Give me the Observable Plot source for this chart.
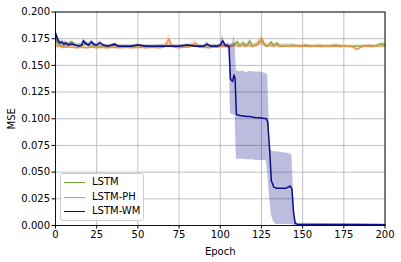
<!DOCTYPE html>
<html>
<head>
<meta charset="utf-8">
<script src="https://cdn.jsdelivr.net/npm/d3@7"></script>
<script src="https://cdn.jsdelivr.net/npm/@observablehq/plot@0.6"></script>
<style>
  html, body { margin: 0; padding: 0; background: #fff; }
  #wrap { position: relative; width: 401px; height: 262px; font-family: "DejaVu Sans", sans-serif; }
  #legend { position: absolute; left: 60px; top: 173px; width: 82px; height: 46px;
    border: 1px solid #cccccc; border-radius: 3px; background: rgba(255,255,255,0.8);
    font-size: 10px; color: #000; }
  .row { position: absolute; left: 0; height: 14px; display: flex; align-items: center; }
  .sw { position: absolute; left: 3px; width: 21px; height: 0; border-top: 1.6px solid; }
  .lb { position: absolute; left: 31px; white-space: nowrap; line-height: 14px; }
</style>
</head>
<body>
<div id="wrap"></div>
<script>
// Series names and colours
const seriesNames = ["LSTM", "LSTM-PH", "LSTM-WM"];
const seriesColors = ["#74a23a", "#ef9149", "#0d0d8c"];

// Ticks
const xTicks = [0, 25, 50, 75, 100, 125, 150, 175, 200];
const yTicks = [0, 0.025, 0.05, 0.075, 0.1, 0.125, 0.15, 0.175, 0.2];

// [epoch, mean MSE, lower band, upper band]
const lstm = [
  [0,0.176,0.170,0.181],[1,0.171,0.167,0.175],[3,0.169,0.167,0.171],[5,0.168,0.166,0.170],
  [8,0.170,0.167,0.172],[10,0.172,0.168,0.174],[12,0.169,0.167,0.171],[15,0.168,0.166,0.170],
  [18,0.170,0.168,0.172],[21,0.168,0.167,0.170],[25,0.168,0.167,0.169],[30,0.168,0.167,0.169],
  [35,0.1685,0.167,0.170],[40,0.168,0.167,0.169],[45,0.168,0.167,0.169],[50,0.1685,0.167,0.170],
  [55,0.168,0.167,0.169],[60,0.168,0.167,0.169],[65,0.1685,0.167,0.170],[70,0.168,0.167,0.169],
  [75,0.168,0.167,0.169],[80,0.1685,0.167,0.170],[85,0.168,0.167,0.169],[90,0.168,0.167,0.169],
  [95,0.1685,0.167,0.170],[100,0.168,0.167,0.169],[103,0.168,0.166,0.170],
  [106,0.168,0.166,0.170],[108,0.169,0.167,0.171],[110.5,0.172,0.168,0.174],[112,0.168,0.166,0.170],
  [114,0.171,0.168,0.173],[116,0.168,0.166,0.170],[118,0.173,0.169,0.175],[119.5,0.168,0.166,0.170],
  [122,0.169,0.167,0.171],[125,0.174,0.169,0.177],[127,0.169,0.167,0.171],[129,0.168,0.166,0.170],
  [131,0.172,0.168,0.173],[132.5,0.168,0.166,0.170],[134.5,0.171,0.168,0.172],[136,0.168,0.166,0.170],
  [140,0.168,0.167,0.170],[144,0.169,0.167,0.170],[148,0.168,0.167,0.169],[152,0.169,0.167,0.170],
  [156,0.168,0.167,0.169],[160,0.1685,0.167,0.170],[165,0.168,0.167,0.169],[170,0.169,0.167,0.170],
  [175,0.168,0.167,0.169],[180,0.168,0.167,0.169],[185,0.168,0.167,0.169],[190,0.1685,0.167,0.170],
  [194,0.168,0.167,0.169],[197,0.170,0.168,0.171],[198.5,0.170,0.168,0.172],[200,0.169,0.167,0.171]
];

const lstmPH = [
  [0,0.169,0.166,0.172],[2,0.168,0.166,0.170],[4,0.167,0.165,0.169],[7,0.167,0.166,0.169],
  [10,0.167,0.166,0.168],[13,0.1665,0.165,0.168],[16,0.167,0.165,0.168],[19,0.1665,0.165,0.168],
  [22,0.167,0.166,0.168],[25,0.1665,0.165,0.168],[28,0.167,0.165,0.168],[31,0.1665,0.165,0.168],
  [35,0.167,0.166,0.168],[39,0.1665,0.165,0.168],[43,0.167,0.166,0.168],[47,0.1665,0.165,0.168],
  [51,0.167,0.166,0.168],[55,0.1665,0.165,0.168],[59,0.167,0.166,0.168],[63,0.1665,0.165,0.168],
  [66,0.167,0.166,0.169],[68,0.172,0.167,0.176],[69,0.175,0.168,0.180],[70,0.170,0.166,0.173],
  [72,0.167,0.166,0.168],[75,0.1665,0.165,0.168],[78,0.167,0.166,0.168],[81,0.167,0.166,0.169],
  [84,0.170,0.167,0.173],[85,0.171,0.168,0.174],[87,0.167,0.166,0.169],[90,0.167,0.165,0.168],
  [93,0.1665,0.165,0.168],[96,0.167,0.166,0.168],[99,0.167,0.166,0.169],[102,0.168,0.166,0.170],
  [105,0.168,0.166,0.170],[107,0.168,0.166,0.170],[109,0.169,0.167,0.171],[111,0.168,0.166,0.170],
  [113,0.169,0.167,0.171],[115,0.168,0.166,0.170],[117,0.169,0.167,0.171],[119,0.168,0.166,0.170],
  [121,0.169,0.167,0.171],[123,0.170,0.167,0.173],[124.5,0.173,0.169,0.176],[125.5,0.175,0.170,0.178],
  [126.5,0.171,0.168,0.174],[128,0.168,0.166,0.170],[130,0.169,0.167,0.171],[132,0.168,0.166,0.170],
  [134,0.169,0.167,0.171],[137,0.168,0.166,0.170],[140,0.1685,0.167,0.170],[143,0.168,0.166,0.170],
  [146,0.168,0.167,0.170],[149,0.1675,0.166,0.169],[152,0.168,0.167,0.169],[155,0.1675,0.166,0.169],
  [158,0.168,0.167,0.169],[161,0.1675,0.166,0.169],[164,0.168,0.167,0.169],[167,0.1675,0.166,0.169],
  [170,0.168,0.167,0.169],[173,0.1675,0.166,0.169],[176,0.168,0.167,0.169],[179,0.1675,0.166,0.169],
  [181,0.167,0.165,0.168],[182.5,0.165,0.163,0.167],[184,0.166,0.164,0.168],[186,0.1675,0.166,0.169],
  [189,0.168,0.167,0.169],[192,0.1675,0.166,0.169],[195,0.168,0.167,0.169],[198,0.168,0.167,0.170],
  [200,0.168,0.167,0.170]
];

const lstmWM = [
  [0,0.180,0.176,0.184],[1,0.176,0.172,0.180],[2,0.172,0.170,0.175],[3,0.171,0.169,0.173],
  [4,0.172,0.170,0.174],[5,0.170,0.168,0.172],[6,0.171,0.169,0.173],[8,0.169,0.168,0.171],
  [10,0.170,0.168,0.172],[12,0.169,0.168,0.170],[14,0.168,0.167,0.170],[16,0.169,0.167,0.171],
  [17,0.173,0.171,0.175],[18,0.171,0.169,0.173],[20,0.169,0.168,0.171],[22,0.172,0.170,0.174],
  [23,0.170,0.168,0.172],[25,0.169,0.168,0.170],[27,0.171,0.170,0.173],[29,0.169,0.168,0.170],
  [32,0.168,0.167,0.169],[36,0.170,0.168,0.171],[38,0.168,0.167,0.169],[42,0.168,0.167,0.169],
  [46,0.168,0.167,0.169],[50,0.169,0.168,0.170],[55,0.168,0.167,0.169],[60,0.168,0.167,0.169],
  [65,0.168,0.167,0.169],[70,0.168,0.167,0.169],[75,0.168,0.167,0.169],[80,0.169,0.168,0.170],
  [85,0.168,0.167,0.169],[90,0.168,0.167,0.169],[92,0.170,0.169,0.172],[94,0.168,0.167,0.169],
  [98,0.168,0.167,0.169],[100,0.169,0.167,0.170],[101.5,0.173,0.168,0.178],[103,0.169,0.167,0.170],
  [105.3,0.168,0.166,0.170],[106.2,0.137,0.105,0.169],[107.5,0.135,0.104,0.170],[108.3,0.141,0.103,0.178],
  [109,0.138,0.104,0.170],[109.8,0.104,0.062,0.145],[112,0.103,0.062,0.144],[114,0.1025,0.062,0.1445],
  [116,0.102,0.0615,0.143],[118,0.102,0.0615,0.1445],[120,0.1015,0.0615,0.144],[122,0.101,0.061,0.1435],
  [124,0.101,0.061,0.144],[126,0.1005,0.061,0.143],[128,0.100,0.061,0.142],[128.8,0.097,0.050,0.141],
  [130,0.070,0.025,0.082],[131,0.042,0.010,0.070],[132.5,0.036,0.003,0.069],[134,0.035,0.001,0.069],
  [137,0.035,0.001,0.0685],[140,0.035,0.001,0.068],[142.5,0.037,0.001,0.067],[143.5,0.034,0.001,0.066],
  [144.5,0.012,0.000,0.030],[145.5,0.002,0.000,0.004],[147,0.001,0.000,0.002],[160,0.001,0.000,0.0018],
  [180,0.0009,0.000,0.0016],[200,0.0008,0.000,0.0015]
];

const allSeries = [lstm, lstmPH, lstmWM];

const marks = [
  Plot.gridX(xTicks, {stroke: "#b0b0b0", strokeOpacity: 1, strokeWidth: 0.8}),
  Plot.gridY(yTicks, {stroke: "#b0b0b0", strokeOpacity: 1, strokeWidth: 0.8})
];
allSeries.forEach((s, i) => {
  marks.push(Plot.areaY(s, {x: d => d[0], y1: d => d[2], y2: d => d[3],
    fill: seriesColors[i], fillOpacity: 0.28}));
  marks.push(Plot.lineY(s, {x: d => d[0], y: d => d[1],
    stroke: seriesColors[i], strokeWidth: i === 2 ? 1.5 : 1.3}));
});
marks.push(Plot.frame({stroke: "#000", strokeWidth: 0.9}));
marks.push(Plot.axisX({ticks: xTicks, tickSize: 3.5, tickPadding: 2, label: "Epoch",
  labelAnchor: "center", labelArrow: "none", labelOffset: 29}));
marks.push(Plot.axisY({ticks: yTicks, tickSize: 3.5, tickPadding: 2, tickFormat: d3.format(".3f"),
  label: "MSE", labelAnchor: "center", labelArrow: "none", labelOffset: 48}));

const chart = Plot.plot({
  width: 401,
  height: 262,
  marginLeft: 55,
  marginRight: 16.5,
  marginTop: 11.5,
  marginBottom: 37,
  style: {fontFamily: "DejaVu Sans", fontSize: "10px", color: "#000", background: "#fff"},
  x: {domain: [0, 200]},
  y: {domain: [0, 0.2]},
  marks
});

const wrap = document.getElementById("wrap");
wrap.appendChild(chart);

const legend = document.createElement("div");
legend.id = "legend";
seriesNames.forEach((name, i) => {
  const row = document.createElement("div");
  row.className = "row";
  row.style.top = (1 + i * 14.5) + "px";
  const sw = document.createElement("div");
  sw.className = "sw";
  sw.style.borderTopColor = seriesColors[i];
  sw.style.top = "7px";
  const lb = document.createElement("div");
  lb.className = "lb";
  lb.textContent = name;
  row.appendChild(sw);
  row.appendChild(lb);
  legend.appendChild(row);
});
wrap.appendChild(legend);
</script>
</body>
</html>
